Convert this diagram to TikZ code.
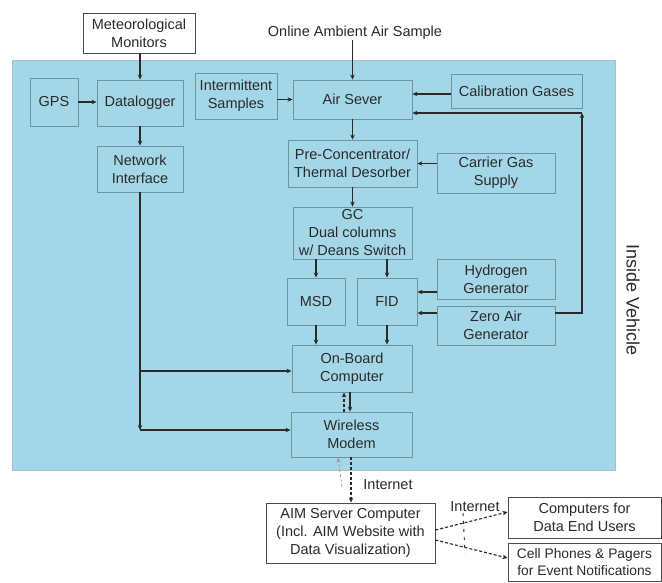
\documentclass[tikz,border=0pt]{standalone}
\usepackage{fontspec}
\setmainfont{Liberation Sans}
\usetikzlibrary{arrows.meta}
\definecolor{bgblue}{HTML}{A3D7E8}
\definecolor{boxline}{HTML}{6A95A4}
\definecolor{ink}{HTML}{2A2A2A}
\begin{document}
\begin{tikzpicture}[x=1pt,y=-1pt,
  txt/.style={font=\fontsize{14.5}{18}\selectfont, text=ink, align=center, inner sep=0pt},
  blk/.style={txt, draw=boxline, line width=0.9pt},
  wblk/.style={txt, draw=ink!85, line width=0.9pt, fill=white},
  arr/.style={draw=ink, line width=1.1pt, -{Stealth[length=5pt,width=4.5pt]}},
  darr/.style={arr, dash pattern=on 3pt off 2pt},
  mw/.style={minimum width=#1pt},
  mh/.style={minimum height=#1pt}]
\useasboundingbox (0,0) rectangle (662,582);
\fill[white] (0,0) rectangle (662,582);
\filldraw[fill=bgblue, draw=boxline!60, line width=0.6pt] (12,60) rectangle (615,470);

% nodes
\node[wblk, mw=112, mh=40] (met) at (139,33) {Meteorological\\Monitors};
\node[txt] (online) at (355,33) {Online Ambient Air Sample};
\node[blk, mw=48, mh=48] (gps) at (54,102) {GPS};
\node[blk, mw=86, mh=46] (dl) at (140,103) {Datalogger};
\node[blk, mw=86, mh=46] (ni) at (140,169) {Network\\Interface};
\node[blk, mw=82, mh=46] (ints) at (236,96) {Intermittent\\Samples};
\node[blk, mw=119, mh=39] (air) at (352.5,99.5) {Air Sever};
\node[blk, mw=131, mh=34] (cal) at (516.5,91) {Calibration Gases};
\node[blk, mw=129, mh=47] (pre) at (352.5,163.5) {Pre-Concentrator/\\Thermal Desorber};
\node[blk, mw=118, mh=40] (car) at (496,173) {Carrier Gas\\Supply};
\node[blk, mw=119, mh=52] (gc) at (352.5,233) {GC\\Dual columns\\w/ Deans Switch};
\node[blk, mw=58, mh=47] (msd) at (316,301.5) {MSD};
\node[blk, mw=60, mh=47] (fid) at (387,301.5) {FID};
\node[blk, mw=118, mh=40] (hyd) at (496,279) {Hydrogen\\Generator};
\node[blk, mw=118, mh=39] (zero) at (496,325.5) {Zero Air\\Generator};
\node[blk, mw=120, mh=47] (obc) at (352,368.5) {On-Board\\Computer};
\node[blk, mw=121, mh=45] (wm) at (351.5,434.5) {Wireless\\Modem};
\node[txt, font=\fontsize{18}{20}\selectfont, rotate=-90] (veh) at (633,300) {Inside Vehicle};
\node[wblk, mw=169, mh=60] (aim) at (350.5,533) {AIM Server Computer\\(Incl. AIM Website with\\Data Visualization)};
\node[txt] (inet1) at (388,485) {Internet};
\node[txt] (inet2) at (475,507) {Internet};
\node[wblk, mw=153, mh=41] (comp) at (584.5,517.5) {Computers for\\Data End Users};
\node[wblk, mw=153, mh=38, font=\fontsize{13.8}{17}\selectfont] (cell) at (584.5,562.5) {Cell Phones \& Pagers\\for Event Notifications};

% coordinates
\coordinate (zr) at (582,313);
\coordinate (lp) at (582,113);
\coordinate (nb) at (140,430);
\coordinate (gup) at (342,487);
\coordinate (ia) at (463,513);
\coordinate (ib) at (465,553);

% connectors
\draw[arr] (met.south -| dl.north) -- (dl.north);
\draw[arr] (gps.east) -- (dl.west |- gps.east);
\draw[arr] (dl.south) -- (ni.north);
\draw[arr] (ints.east |- air.west) -- (air.west);
\draw[arr] (online.south -| air.north) -- (air.north);
\draw[arr] (cal.west |- 0,94) -- (air.east |- 0,94);
\draw[arr] (zero.east |- zr) -- (zr) -- (lp);
\draw[arr] (lp) -- (air.east |- lp);
\draw[arr] (air.south) -- (pre.north);
\draw[arr] (car.west |- pre.east) -- (pre.east);
\draw[arr] (pre.south) -- (gc.north);
\draw[arr] (msd.north |- gc.south) -- (msd.north);
\draw[arr] (fid.north |- gc.south) -- (fid.north);
\draw[arr] (hyd.west |- 0,292) -- (fid.east |- 0,292);
\draw[arr] (zero.west |- zr) -- (fid.east |- zr);
\draw[arr] (msd.south) -- (msd.south |- obc.north);
\draw[arr] (fid.south) -- (fid.south |- obc.north);
\draw[arr] (ni.south) -- (nb);
\draw[arr] (nb) -- (wm.west |- nb);
\draw[arr] (ni.south |- 0,371) -- (obc.west |- 0,371);
\draw[darr] (wm.north -| 344,0) -- (obc.south -| 344,0);
\draw[arr] (obc.south -| 350,0) -- (wm.north -| 350,0);
\draw[darr] (wm.south -| 351,0) -- (aim.north -| 351,0);
\draw[darr, draw=ink!45, line width=0.8pt] (gup) -- (wm.south -| 338,0);
\draw[darr] (aim.east |- 0,530) -- (comp.west |- 0,512);
\draw[darr] (aim.east |- 0,540) -- (cell.west |- 0,558);
\draw[ink, line width=0.9pt, dash pattern=on 3pt off 5pt] (ia) -- (ib);
\end{tikzpicture}
\end{document}
